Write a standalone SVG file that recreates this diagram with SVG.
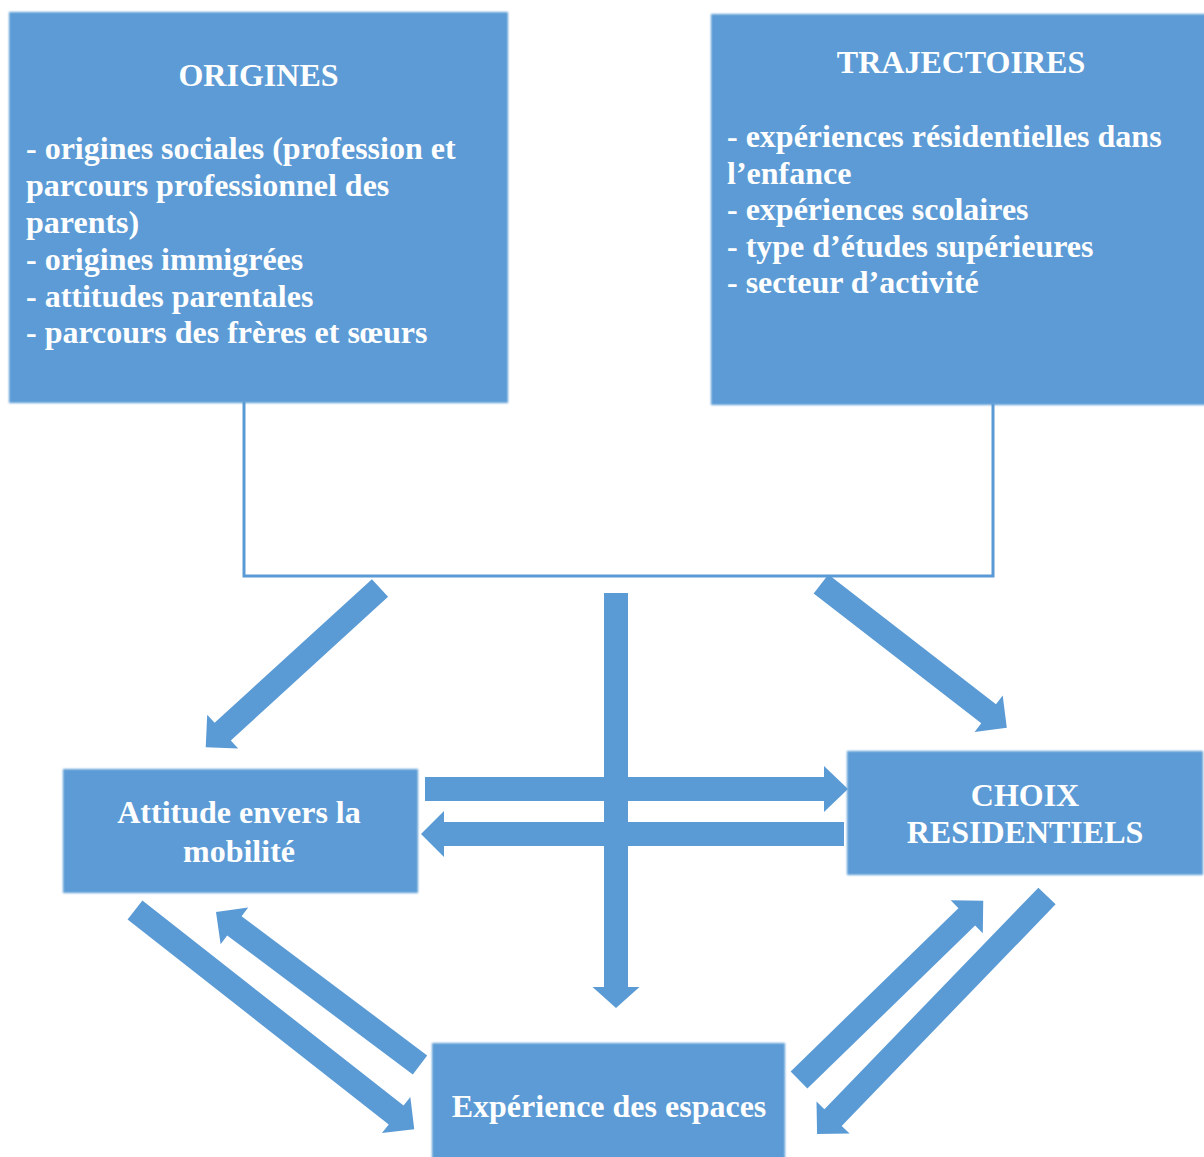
<svg xmlns="http://www.w3.org/2000/svg" width="1204" height="1157" viewBox="0 0 1204 1157">
<defs>
<filter id="soft" x="-5%" y="-5%" width="110%" height="110%"><feGaussianBlur stdDeviation="1.3"/></filter>
<style>
.box{fill:#5B9BD5;filter:url(#soft)}
.t{font-family:"Liberation Serif","Times New Roman",serif;font-weight:bold;font-size:32px;fill:#FFFFFF}
.c{text-anchor:middle}
.arr{fill:#5B9BD5}
.ln{fill:none;stroke:#5B9BD5;stroke-width:3}
</style>
</defs>
<rect width="1204" height="1157" fill="#FFFFFF"/>

<g id="connectors">
<path class="ln" d="M244,402 V576 H993 V404"/>
<!-- origins/trajectories to attitude -->
<path class="arr" transform="translate(380,588) rotate(137.6)" d="M0,-12 H213 V-23 L236,0 L213,23 V12 H0 Z"/>
<!-- to choix -->
<path class="arr" transform="translate(821,584) rotate(37.75)" d="M0,-12 H212 V-23 L235,0 L212,23 V12 H0 Z"/>
<!-- vertical to experience -->
<path class="arr" transform="translate(616,593) rotate(90)" d="M0,-12 H394 V-23.5 L415,0 L394,23.5 V12 H0 Z"/>
<!-- attitude to choix -->
<path class="arr" transform="translate(425,789)" d="M0,-12 H399 V-23 L423,0 L399,23 V12 H0 Z"/>
<!-- choix to attitude -->
<path class="arr" transform="translate(844,834) rotate(180)" d="M0,-12 H400 V-23 L423,0 L400,23 V12 H0 Z"/>
<!-- attitude to experience -->
<path class="arr" transform="translate(135,910) rotate(38.13)" d="M0,-12 H332 V-23 L355,0 L332,23 V12 H0 Z"/>
<!-- experience to attitude -->
<path class="arr" transform="translate(420,1065) rotate(-143.13)" d="M0,-12 H232 V-23 L255,0 L232,23 V12 H0 Z"/>
<!-- experience to choix -->
<path class="arr" transform="translate(799,1080) rotate(-44.2)" d="M0,-12 H234 V-23 L257,0 L234,23 V12 H0 Z"/>
<!-- choix to experience -->
<path class="arr" transform="translate(1047,896) rotate(134)" d="M0,-12 H308 V-23 L331,0 L308,23 V12 H0 Z"/>
</g>

<g id="origines">
<rect class="box" x="9" y="12" width="499" height="391"/>
<text class="t c" x="258.5" y="86">ORIGINES</text>
<text class="t" x="26" y="159">- origines sociales (profession et</text>
<text class="t" x="26" y="196">parcours professionnel des</text>
<text class="t" x="26" y="233">parents)</text>
<text class="t" x="26" y="270">- origines immigrées</text>
<text class="t" x="26" y="307">- attitudes parentales</text>
<text class="t" x="26" y="343">- parcours des frères et sœurs</text>
</g>

<g id="trajectoires">
<rect class="box" x="711" y="14" width="496" height="391"/>
<text class="t c" x="961" y="73">TRAJECTOIRES</text>
<text class="t" x="727" y="147">- expériences résidentielles dans</text>
<text class="t" x="727" y="184">l’enfance</text>
<text class="t" x="727" y="220">- expériences scolaires</text>
<text class="t" x="727" y="257">- type d’études supérieures</text>
<text class="t" x="727" y="293">- secteur d’activité</text>
</g>

<g id="attitude">
<rect class="box" x="63" y="769" width="355" height="124"/>
<text class="t c" x="239" y="823">Attitude envers la</text>
<text class="t c" x="239" y="862">mobilité</text>
</g>

<g id="choix">
<rect class="box" x="847" y="751" width="356" height="124"/>
<text class="t c" x="1025" y="806">CHOIX</text>
<text class="t c" x="1025" y="843">RESIDENTIELS</text>
</g>

<g id="experience">
<rect class="box" x="432" y="1043" width="353" height="120"/>
<text class="t c" x="609" y="1117">Expérience des espaces</text>
</g>
</svg>
